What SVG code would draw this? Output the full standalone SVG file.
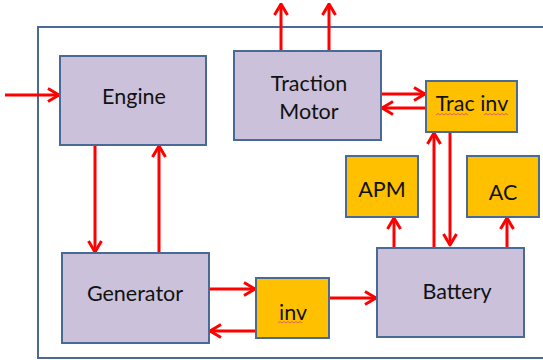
<svg xmlns="http://www.w3.org/2000/svg" width="543" height="360" viewBox="0 0 543 360">
<style>
.p{fill:#cbc1da;stroke:#4a6a96;stroke-width:2}
.o{fill:#ffc000;stroke:#4a6a96;stroke-width:2}
.t{font-family:Lato,"Open Sans",sans-serif;font-size:21.5px;fill:#111;text-anchor:middle}
.c{stroke:#ff0000;stroke-width:3;fill:none;marker-end:url(#a)}
.w{stroke:#e06060;stroke-width:1;fill:none}
</style>
<defs>
<marker id="a" viewBox="0 0 14 16" refX="12.5" refY="8" markerWidth="14" markerHeight="16" markerUnits="userSpaceOnUse" orient="auto">
<path d="M1.5,1.5 L12.5,8 L1.5,14.5" stroke="#ff0000" stroke-width="3" fill="none" stroke-linejoin="round"/>
</marker>
</defs>
<rect x="38" y="27" width="530" height="331" fill="#fff" stroke="#4a6a96" stroke-width="2"/>
<g id="connectors">
<line class="c" x1="5" y1="95" x2="59" y2="95"/>
<line class="c" x1="95" y1="146" x2="95" y2="252"/>
<line class="c" x1="159" y1="253" x2="159" y2="146"/>
<line class="c" x1="281" y1="51" x2="281" y2="4"/>
<line class="c" x1="329" y1="51" x2="329" y2="4"/>
<line class="c" x1="381" y1="94" x2="425" y2="94"/>
<line class="c" x1="426" y1="108" x2="382" y2="108"/>
<line class="c" x1="434" y1="247" x2="434" y2="133"/>
<line class="c" x1="450" y1="132" x2="450" y2="245"/>
<line class="c" x1="394" y1="248" x2="394" y2="218"/>
<line class="c" x1="507" y1="248" x2="507" y2="218"/>
<line class="c" x1="209" y1="289" x2="255" y2="289"/>
<line class="c" x1="256" y1="331" x2="210" y2="331"/>
<line class="c" x1="329" y1="298" x2="376" y2="298"/>
</g>
<g id="engine"><rect class="p" x="60" y="56" width="146" height="89"/><text class="t" x="134" y="104">Engine</text></g>
<g id="traction-motor"><rect class="p" x="234" y="51" width="147" height="89"/><text class="t" x="309" y="91">Traction</text><text class="t" x="309" y="119">Motor</text></g>
<g id="trac-inv"><rect class="o" x="426" y="81" width="91" height="51"/><text class="t" x="472" y="111">Trac inv</text>
<path class="w" d="M436,115 l2,-1.5 l2,1.5 l2,-1.5 l2,1.5 l2,-1.5 l2,1.5 l2,-1.5 l2,1.5 l2,-1.5 l2,1.5 l2,-1.5 l2,1.5 l2,-1.5 l2,1.5 l2,-1.5 l2,1.5"/>
<path class="w" d="M484,115 l2,-1.5 l2,1.5 l2,-1.5 l2,1.5 l2,-1.5 l2,1.5 l2,-1.5 l2,1.5 l2,-1.5 l2,1.5 l2,-1.5 l2,1.5"/></g>
<g id="apm"><rect class="o" x="346" y="156" width="72" height="61"/><text class="t" x="382" y="197">APM</text></g>
<g id="ac"><rect class="o" x="467" y="156" width="72" height="61"/><text class="t" x="503" y="200">AC</text></g>
<g id="generator"><rect class="p" x="62" y="253" width="147" height="90"/><text class="t" x="135" y="301">Generator</text></g>
<g id="inv"><rect class="o" x="256" y="278" width="73" height="60"/><text class="t" x="293" y="320">inv</text>
<path class="w" d="M278,323 l2,-1.5 l2,1.5 l2,-1.5 l2,1.5 l2,-1.5 l2,1.5 l2,-1.5 l2,1.5 l2,-1.5 l2,1.5 l2,-1.5 l2,1.5"/></g>
<g id="battery"><rect class="p" x="377" y="248" width="147" height="89"/><text class="t" x="457" y="299">Battery</text></g>
</svg>
